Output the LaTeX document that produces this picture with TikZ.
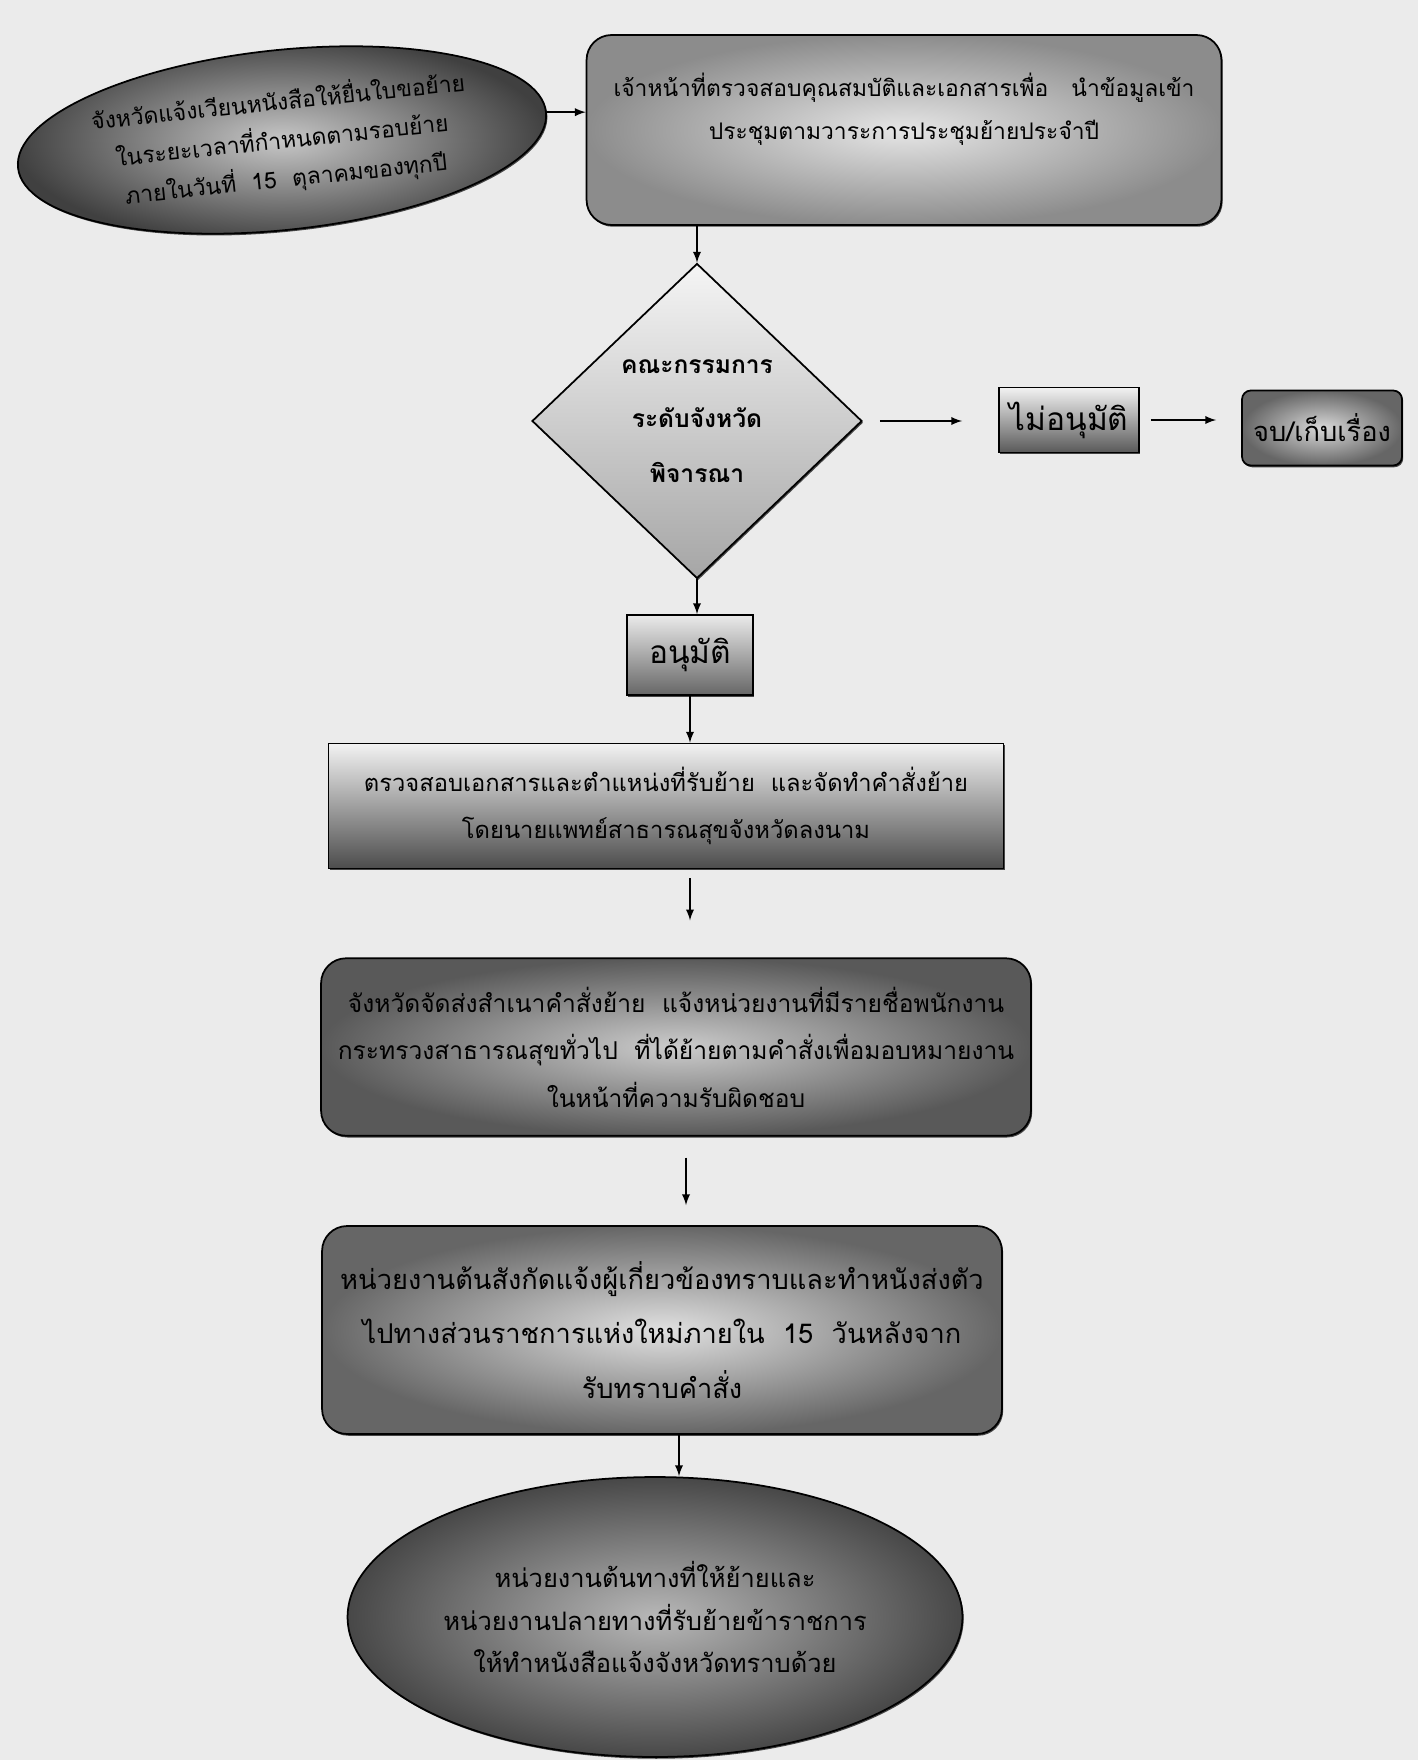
\documentclass[tikz,border=0pt]{standalone}
\usepackage{fontspec}
\newfontfamily\thaifont[Script=Thai]{Loma}
\usepackage{xcolor}
\usepackage{tikz}
\usetikzlibrary{shapes,arrows,positioning,shadows}

\begin{document}
\begin{tikzpicture}[x=0.02cm, y=-0.02cm,
    thtext/.style={font=\thaifont\fontsize{14}{27}\selectfont, align=center},
    card/.style={thtext, draw=black, line width=1pt, inner sep=0pt,
        drop shadow={shadow xshift=0.7pt, shadow yshift=-1pt, fill=black, opacity=0.7}},
    flow/.style={-latex, line width=1.1pt}]

% Page background
\fill[black!8] (0,0) rectangle (1418,1760);
\useasboundingbox (0,0) rectangle (1418,1760);

% Start and first check
\node[card, ellipse, rotate=6, minimum width=10.6cm, minimum height=3.6cm,
      inner color=black!22, outer color=black!75,
      font=\thaifont\fontsize{13}{22}\selectfont] (start) at (282,140)
    {จังหวัดแจ้งเวียนหนังสือให้ยื่นใบขอย้าย\\ในระยะเวลาที่กำหนดตามรอบย้าย\\ภายในวันที่~~15~~ตุลาคมของทุกปี};
\node[card, rounded corners=0.5cm, minimum width=12.7cm, minimum height=3.8cm,
      inner color=black!10, outer color=black!45,
      font=\thaifont\fontsize{13}{25}\selectfont] (check) at (904,130)
    {เจ้าหน้าที่ตรวจสอบคุณสมบัติและเอกสารเพื่อ~~~นำข้อมูลเข้า\\ประชุมตามวาระการประชุมย้ายประจำปี\\[2pt]~};

% Committee decision
\node[card, diamond, minimum width=6.6cm, minimum height=6.3cm,
      top color=black!4, bottom color=black!35,
      font=\thaifont\bfseries\fontsize{14}{31}\selectfont] (decide) at (697,421)
    {คณะกรรมการ\\ระดับจังหวัด\\พิจารณา};
\node[card, minimum width=2.8cm, minimum height=1.3cm,
      top color=black!5, bottom color=black!65,
      font=\thaifont\fontsize{18}{20}\selectfont] (reject) at (1069,420) {ไม่อนุมัติ};
\node[card, rounded corners=5pt, minimum width=3.2cm, minimum height=1.5cm,
      inner color=black!15, outer color=black!60,
      font=\thaifont\fontsize{15.5}{20}\selectfont] (close) at (1322,428) {จบ/เก็บเรื่อง};
\node[card, minimum width=2.52cm, minimum height=1.6cm,
      top color=black!8, bottom color=black!60,
      font=\thaifont\fontsize{18}{20}\selectfont] (approve) at (690,655) {อนุมัติ};

% Order and notices
\node[card, minimum width=13.5cm, minimum height=2.5cm,
      top color=black!5, bottom color=black!70,
      font=\thaifont\fontsize{13.5}{27}\selectfont] (docs) at (666,806)
    {ตรวจสอบเอกสารและตำแหน่งที่รับย้าย~~และจัดทำคำสั่งย้าย\\โดยนายแพทย์สาธารณสุขจังหวัดลงนาม};
\node[card, rounded corners=0.5cm, minimum width=14.2cm, minimum height=3.55cm,
      inner color=black!20, outer color=black!65] (notify) at (676,1047)
    {จังหวัดจัดส่งสำเนาคำสั่งย้าย~~แจ้งหน่วยงานที่มีรายชื่อพนักงาน\\กระทรวงสาธารณสุขทั่วไป~~ที่ได้ย้ายตามคำสั่งเพื่อมอบหมายงาน\\ในหน้าที่ความรับผิดชอบ};
\node[card, rounded corners=0.5cm, minimum width=13.6cm, minimum height=4.16cm,
      inner color=black!12, outer color=black!60,
      font=\thaifont\fontsize{15.5}{31}\selectfont] (report) at (662,1330)
    {หน่วยงานต้นสังกัดแจ้งผู้เกี่ยวข้องทราบและทำหนังส่งตัว\\ไปทางส่วนราชการแห่งใหม่ภายใน~~15~~วันหลังจาก\\รับทราบคำสั่ง};
\node[card, ellipse, minimum width=12.3cm, minimum height=5.6cm,
      inner color=black!28, outer color=black!72,
      font=\thaifont\fontsize{14.5}{24}\selectfont] (finish) at (655,1617)
    {หน่วยงานต้นทางที่ให้ย้ายและ\\หน่วยงานปลายทางที่รับย้ายข้าราชการ\\ให้ทำหนังสือแจ้งจังหวัดทราบด้วย};

% Arrows
\draw[flow] (start.east) -- (start.east -| check.west);
\draw[flow] (check.south -| decide.north) -- (decide.north);
\draw[flow, shorten <=0.34cm, shorten >=0.72cm] (decide.east) -- (decide.east -| reject.west);
\draw[flow, shorten <=0.22cm, shorten >=0.5cm] (reject.east) -- (reject.east -| close.west);
\draw[flow] (decide.south) -- (decide.south |- approve.north);
\draw[flow] (approve.south) -- (approve.south |- docs.north);
\draw[flow, shorten <=0.18cm, shorten >=0.74cm] (approve |- docs.south) -- (approve |- notify.north);
\draw[flow, shorten <=0.42cm, shorten >=0.4cm] ([xshift=-0.08cm]approve |- notify.south) -- ([xshift=-0.08cm]approve |- report.north);
\draw[flow] ([xshift=0.48cm]finish.north |- report.south) -- ([xshift=0.48cm]finish.north);

\end{tikzpicture}
\end{document}
